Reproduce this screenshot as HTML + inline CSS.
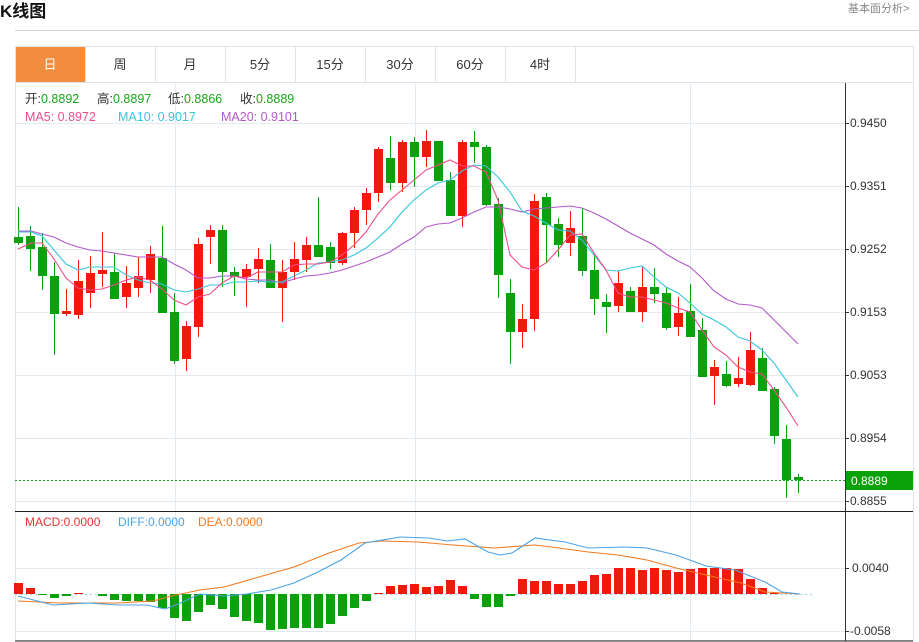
<!DOCTYPE html>
<html><head><meta charset="utf-8"><style>
body{margin:0;width:919px;height:642px;background:#fff;overflow:hidden;font-family:"Liberation Sans","Noto Sans CJK SC",sans-serif;}
svg{position:absolute;left:0;top:0}
</style></head><body>
<svg id="s" width="919" height="642" xmlns="http://www.w3.org/2000/svg" font-family="Liberation Sans, Noto Sans CJK SC, sans-serif">
<text x="0" y="17" font-size="17" font-weight="bold" fill="#111">K线图</text>
<text x="848" y="12" font-size="11" fill="#888">基本面分析&gt;</text>
<line x1="15" y1="30.5" x2="919" y2="30.5" stroke="#d0d4da"/>
<rect x="15.5" y="46.5" width="898" height="594" fill="none" stroke="#dde3ea"/>
<line x1="15" y1="82.5" x2="913" y2="82.5" stroke="#dde3ea"/>
<rect x="16" y="47" width="69" height="35" fill="#f28d40"/>
<g stroke="#dde3ea"><line x1="85.5" y1="47" x2="85.5" y2="82"/><line x1="155.5" y1="47" x2="155.5" y2="82"/><line x1="225.5" y1="47" x2="225.5" y2="82"/><line x1="295.5" y1="47" x2="295.5" y2="82"/><line x1="365.5" y1="47" x2="365.5" y2="82"/><line x1="435.5" y1="47" x2="435.5" y2="82"/><line x1="505.5" y1="47" x2="505.5" y2="82"/><line x1="575.5" y1="47" x2="575.5" y2="82"/></g>
<g font-size="13" text-anchor="middle" fill="#333"><text x="50" y="69" fill="#fff">日</text><text x="120" y="69">周</text><text x="190" y="69">月</text><text x="260" y="69">5分</text><text x="330" y="69">15分</text><text x="400" y="69">30分</text><text x="470" y="69">60分</text><text x="540" y="69">4时</text></g>
<g stroke="#e3e9f0"><line x1="175.5" y1="83" x2="175.5" y2="640"/><line x1="415.5" y1="83" x2="415.5" y2="640"/><line x1="690.5" y1="83" x2="690.5" y2="640"/>
<line x1="15" y1="123.5" x2="845" y2="123.5"/><line x1="15" y1="186.5" x2="845" y2="186.5"/><line x1="15" y1="249.5" x2="845" y2="249.5"/><line x1="15" y1="312.5" x2="845" y2="312.5"/><line x1="15" y1="375.5" x2="845" y2="375.5"/><line x1="15" y1="438.5" x2="845" y2="438.5"/><line x1="15" y1="501.5" x2="845" y2="501.5"/>
<line x1="15" y1="568.5" x2="845" y2="568.5"/><line x1="15" y1="631.5" x2="845" y2="631.5"/></g>
<line x1="845.5" y1="83" x2="845.5" y2="641" stroke="#333"/>
<line x1="15" y1="511.5" x2="913" y2="511.5" stroke="#222"/>
<line x1="15" y1="641" x2="913" y2="641" stroke="#222"/>
<g font-size="12" fill="#333"><text x="850" y="127">0.9450</text><text x="850" y="190">0.9351</text><text x="850" y="253">0.9252</text><text x="850" y="316">0.9153</text><text x="850" y="379">0.9053</text><text x="850" y="442">0.8954</text><text x="850" y="505">0.8855</text><text x="852" y="572">0.0040</text><text x="850" y="635">-0.0058</text></g>
<g stroke="#333"><line x1="845" y1="123.5" x2="849" y2="123.5"/><line x1="845" y1="186.5" x2="849" y2="186.5"/><line x1="845" y1="249.5" x2="849" y2="249.5"/><line x1="845" y1="312.5" x2="849" y2="312.5"/><line x1="845" y1="375.5" x2="849" y2="375.5"/><line x1="845" y1="438.5" x2="849" y2="438.5"/><line x1="845" y1="501.5" x2="849" y2="501.5"/><line x1="845" y1="568.5" x2="849" y2="568.5"/><line x1="845" y1="631.5" x2="849" y2="631.5"/></g>
<line x1="15" y1="480.5" x2="845" y2="480.5" stroke="#1aa31a" stroke-dasharray="2,2"/>
<rect x="846" y="471" width="67" height="19" fill="#0aa10a"/>
<text x="851" y="485" font-size="12" fill="#fff">0.8889</text>
<g font-size="12.5">
<text x="25" y="103" fill="#333">开:<tspan fill="#1aa31a">0.8892</tspan></text>
<text x="97" y="103" fill="#333">高:<tspan fill="#1aa31a">0.8897</tspan></text>
<text x="168" y="103" fill="#333">低:<tspan fill="#1aa31a">0.8866</tspan></text>
<text x="240" y="103" fill="#333">收:<tspan fill="#1aa31a">0.8889</tspan></text>
<text x="25" y="121" fill="#ee4d8a">MA5: 0.8972</text>
<text x="118" y="121" fill="#36c6dd">MA10: 0.9017</text>
<text x="221" y="121" fill="#b25ac9">MA20: 0.9101</text>
</g>
<g font-size="12"><text x="25" y="526" fill="#ee3030">MACD:0.0000</text><text x="118" y="526" fill="#4aa3e8">DIFF:0.0000</text><text x="198" y="526" fill="#f07a20">DEA:0.0000</text></g>
<line x1="15" y1="594.5" x2="812" y2="594.5" stroke="#9cd3ea" stroke-dasharray="2,3"/>
<g id="c"></g>
</svg>
<script>
var C=[[237,243,207,245,'g'],[236,249,226,271,'g'],[247,276,233,290,'g'],[276,314,262,355,'g'],[311,314,289,316,'r'],[281,315,260,319,'r'],[273,293,256,308,'r'],[270,274,232,287,'r'],[272,299,253,299,'g'],[283,297,266,308,'r'],[276,288,257,297,'r'],[254,280,246,293,'r'],[258,313,226,313,'g'],[312,361,293,364,'g'],[326,359,321,371,'r'],[244,327,238,337,'r'],[230,237,225,264,'r'],[230,272,225,287,'g'],[272,277,267,296,'g'],[269,277,264,307,'r'],[259,269,248,283,'r'],[260,288,244,288,'g'],[272,288,260,322,'r'],[259,272,242,280,'r'],[245,260,237,272,'r'],[245,257,197,257,'g'],[247,263,242,269,'g'],[233,263,232,265,'r'],[210,233,207,248,'r'],[193,210,188,225,'r'],[149,193,147,202,'r'],[158,183,136,190,'g'],[142,183,140,192,'r'],[142,157,137,187,'g'],[141,157,130,167,'r'],[141,181,141,181,'g'],[180,216,172,216,'g'],[142,216,140,227,'r'],[142,147,131,163,'g'],[147,205,145,206,'g'],[204,275,198,298,'g'],[293,332,279,364,'g'],[319,332,304,348,'r'],[201,319,194,331,'r'],[197,225,193,263,'g'],[224,245,218,257,'g'],[228,243,211,256,'r'],[236,271,208,276,'g'],[270,299,253,315,'g'],[302,307,294,333,'g'],[283,306,271,312,'r'],[291,312,287,312,'g'],[287,312,267,322,'r'],[287,294,268,303,'g'],[293,328,287,330,'g'],[313,327,297,336,'r'],[311,337,284,337,'g'],[330,377,318,377,'g'],[367,376,360,405,'r'],[374,386,361,387,'g'],[378,384,357,387,'r'],[350,385,332,386,'r'],[358,391,348,391,'g'],[389,436,387,444,'g'],[439,480,425,498,'g'],[477,480,474,493,'g']];
var M=[583,588,595,598,596,593,594,596,600,601,601,602,608,618,621,612,605,609,617,621,623,630,629,628,628,628,624,616,608,601,593,586,585,584,587,586,580,586,599,607,607,596,579,581,581,584,584,581,575,574,568,568,570,568,570,572,569,568,568,568,569,579,588,593,594,594];
var G={r:'#f01a0a',g:'#0aa10a'};var h='';
C.forEach(function(c,k){var x=18+12*k,t=Math.min(c[0],c[1]),b=Math.max(c[0],c[1]);
h+='<line x1="'+(x+.5)+'" y1="'+c[2]+'" x2="'+(x+.5)+'" y2="'+c[3]+'" stroke="'+G[c[4]]+'"/>';
h+='<rect x="'+(x-4)+'" y="'+t+'" width="9" height="'+Math.max(b-t,2)+'" fill="'+G[c[4]]+'"/>';});
M.forEach(function(m,k){var x=18+12*k;if(m==594)return;var up=m<594;
h+='<rect x="'+(x-4)+'" y="'+Math.min(m,594)+'" width="9" height="'+Math.max(Math.abs(m-594),1)+'" fill="'+(up?G.r:G.g)+'"/>';});
function pl(p,col){return '<polyline fill="none" stroke="'+col+'" stroke-width="1.1" points="'+p+'"/>';}
var ma5='18,249 31,243 42,243 54,259 66,278 78,288 90,290 102,289 114,285 126,280 138,277 150,280 162,289 174,300 186,305 198,297 210,294 222,283 234,276 246,278 258,272 270,272 282,272 294,265 306,264 318,264 330,262 342,255 354,245 366,232 378,214 390,200 402,190 414,180 426,170 438,165 450,160 462,166 474,166 486,172 498,200 510,255 522,267 534,270 546,263 558,250 570,235 582,234 594,253 606,270 618,293 630,297 642,297 654,300 666,303 678,308 690,312 702,330 714,347 726,355 738,367 750,372 762,374 774,390 786,407 798,426';
var ma10='18,232 31,232 42,236 54,250 66,264 78,270 90,267 102,267 114,267 126,275 138,280 150,283 162,284 174,290 186,292 198,289 210,285 222,285 234,282 246,282 258,281 270,282 282,282 294,276 306,270 318,263 330,262 342,260 354,255 366,248 378,238 390,227 402,212 414,200 426,190 438,183 450,180 462,171 474,165 486,166 498,177 510,192 522,211 534,216 546,223 558,230 570,231 582,240 594,255 606,270 618,271 630,268 642,266 654,277 666,287 678,293 690,303 702,314 714,320 726,327 738,337 750,341 762,350 774,363 786,380 798,397';
var ma20='18,231 31,231 42,234 54,237 66,243 78,247 90,250 102,251 114,253 126,255 138,257 150,257 162,257 174,264 186,270 198,278 210,278 222,276 234,276 246,279 258,280 270,280 282,283 294,279 306,276 318,275 330,273 342,270 354,266 366,262 378,257 390,252 402,244 414,237 426,227 438,224 450,223 462,218 474,212 486,207 498,207 510,209 522,212 534,209 546,208 558,207 570,206 582,208 594,213 606,219 618,226 630,233 642,239 654,245 666,254 678,261 690,267 702,278 714,291 726,299 738,304 750,305 762,308 774,320 786,332 798,344';
var dea='18,601 59,603 118,603 153,601 176,595 200,590 224,587 259,577 294,567 329,553 359,543 382,541 418,542 453,545 494,548 535,545 559,548 588,552 618,555 647,560 676,568 706,575 741,583 765,592 800,594';
var dif='18,596 53,605 88,603 118,605 147,605 165,609 176,605 200,594 224,596 247,594 271,590 294,583 318,572 341,560 365,543 400,537 429,538 447,541 465,539 488,552 500,555 512,553 535,538 565,542 588,548 624,547 647,548 676,555 706,566 735,570 765,582 782,592 800,594';
h+=pl(ma20,'#b25ac9')+pl(ma10,'#36c6dd')+pl(ma5,'#ee4d8a')+pl(dea,'#f07a20')+pl(dif,'#4aa3e8');
document.getElementById('c').innerHTML=h;
</script>
</body></html>
